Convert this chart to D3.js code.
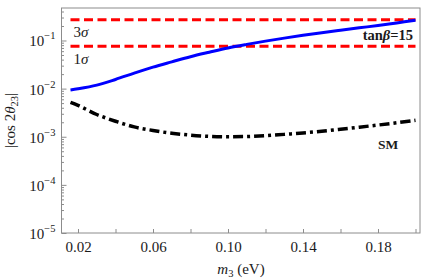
<!DOCTYPE html>
<html>
<head>
<meta charset="utf-8">
<script src="https://cdn.jsdelivr.net/npm/d3@7"></script>
<style>
  body { margin: 0; background: #fff; }
  svg { font-family: "Liberation Serif", "DejaVu Serif", serif; }
</style>
</head>
<body>
<svg id="chart" width="425" height="280"></svg>
<script>
// values
var m3 = [0.016, 0.02, 0.03, 0.04, 0.05, 0.06, 0.07, 0.08, 0.09, 0.10,
          0.11, 0.12, 0.13, 0.14, 0.15, 0.16, 0.17, 0.18, 0.19, 0.20];
var cos_tanb15 = [0.0094, 0.0099, 0.0118, 0.0155, 0.021, 0.028, 0.036, 0.046, 0.057, 0.070,
                  0.083, 0.097, 0.112, 0.128, 0.145, 0.163, 0.183, 0.205, 0.232, 0.262];
var cos_sm = [0.0052, 0.0045, 0.0029, 0.0021, 0.0016, 0.00135, 0.00118, 0.00108, 0.00102, 0.00100,
              0.00101, 0.00105, 0.00112, 0.0012, 0.0013, 0.00143, 0.00158, 0.00175, 0.00195, 0.0022];
var sigma_levels = [0.27, 0.076];
var sigma_labels = ["3", "1"];
var x_ticks = [0.02, 0.06, 0.10, 0.14, 0.18];
var x_minor = [0.04, 0.08, 0.12, 0.16, 0.20];
var y_exps = [-5, -4, -3, -2, -1];

var svg = d3.select("#chart"),
    margin = {top: 8, right: 5, bottom: 47, left: 61.5},
    w = 425, h = 280;

var x = d3.scaleLinear()
    .domain([0.0112, 0.2024])
    .range([margin.left, w - margin.right]);
var y = d3.scaleLog()
    .domain([1e-5, Math.pow(10, -0.325)])
    .range([h - margin.bottom, margin.top]);

// minor y ticks 2..9 in every decade
var y_minor = [];
y_exps.concat([0]).forEach(function(e) {
  for (var k = 2; k <= 9; k++) {
    var v = k * Math.pow(10, e - 1);
    if (v >= y.domain()[0] && v <= y.domain()[1]) y_minor.push(v);
  }
});

var axis_color = "#8c8c8c";
var text_color = "#1a1a1a";

// frame
svg.append("rect")
  .attr("x", margin.left).attr("y", margin.top)
  .attr("width", w - margin.right - margin.left)
  .attr("height", h - margin.bottom - margin.top)
  .attr("fill", "none").attr("stroke", axis_color).attr("stroke-width", 1);

var x_axis = svg.append("g")
  .attr("transform", "translate(0," + (h - margin.bottom) + ")")
  .call(d3.axisBottom(x).tickValues(x_ticks).tickSizeInner(-4).tickSizeOuter(0)
        .tickPadding(8).tickFormat(d3.format(".2f")));
svg.append("g")
  .attr("transform", "translate(0," + (h - margin.bottom) + ")")
  .call(d3.axisBottom(x).tickValues(x_minor).tickSizeInner(-4).tickSizeOuter(0).tickFormat(""));

var y_axis = svg.append("g")
  .attr("transform", "translate(" + margin.left + ",0)")
  .call(d3.axisLeft(y).tickValues(y_exps.map(function(e) { return Math.pow(10, e); }))
        .tickSizeInner(-5).tickSizeOuter(0).tickFormat(""));
svg.append("g")
  .attr("transform", "translate(" + margin.left + ",0)")
  .call(d3.axisLeft(y).tickValues(y_minor).tickSizeInner(-2.5).tickSizeOuter(0).tickFormat(""));

svg.selectAll(".domain").remove();
svg.selectAll(".tick line").attr("stroke", axis_color);
x_axis.selectAll("text").attr("font-size", 15).attr("fill", text_color)
  .attr("font-family", "Liberation Serif");

// y tick labels 10^n
y_exps.forEach(function(e) {
  var t = svg.append("text")
    .attr("x", margin.left - 6)
    .attr("y", y(Math.pow(10, e)) + 6)
    .attr("text-anchor", "end")
    .attr("font-size", 15)
    .attr("fill", text_color);
  t.append("tspan").text("10");
  t.append("tspan").attr("dy", -7).attr("font-size", 10.5).text("\u2212" + (-e));
});

// axis labels
var xl = svg.append("text")
  .attr("x", 241)
  .attr("y", 274)
  .attr("text-anchor", "middle")
  .attr("font-size", 15)
  .attr("fill", text_color);
xl.append("tspan").attr("font-style", "italic").text("m");
xl.append("tspan").attr("dy", 3).attr("font-size", 10.5).text("3");
xl.append("tspan").attr("dy", -3).text(" (eV)");

var yl = svg.append("text")
  .attr("transform", "translate(15," + ((margin.top + h - margin.bottom) / 2) + ") rotate(-90)")
  .attr("text-anchor", "middle")
  .attr("font-size", 15)
  .attr("fill", text_color);
yl.append("tspan").text("|cos 2");
yl.append("tspan").attr("font-style", "italic").text("\u03b8");
yl.append("tspan").attr("dy", 3).attr("font-size", 10.5).text("23");
yl.append("tspan").attr("dy", -3).text("|");

// sigma lines
svg.selectAll(".sigma")
  .data(sigma_levels)
  .enter().append("line")
  .attr("class", "sigma")
  .attr("x1", x(m3[0])).attr("x2", x(m3[m3.length - 1]))
  .attr("y1", function(d) { return y(d); })
  .attr("y2", function(d) { return y(d); })
  .attr("stroke", "#ff0000")
  .attr("stroke-width", 3)
  .attr("stroke-dasharray", "9,4.5");

sigma_levels.forEach(function(d, i) {
  var t = svg.append("text")
    .attr("x", x(0.0176))
    .attr("y", y(d) + 17.5)
    .attr("font-size", 15)
    .attr("fill", text_color);
  t.append("tspan").text(sigma_labels[i]);
  t.append("tspan").attr("font-style", "italic").text("\u03c3");
});

var line = d3.line()
  .x(function(d, i) { return x(m3[i]); })
  .y(function(d) { return y(d); })
  .curve(d3.curveCatmullRom);

svg.append("path")
  .datum(cos_tanb15)
  .attr("d", line)
  .attr("fill", "none")
  .attr("stroke", "#0000ff")
  .attr("stroke-width", 3);

svg.append("path")
  .datum(cos_sm)
  .attr("d", line)
  .attr("fill", "none")
  .attr("stroke", "#000")
  .attr("stroke-width", 3.5)
  .attr("stroke-dasharray", "10,4,3,4");

// curve labels
var tb = svg.append("text")
  .attr("x", 413).attr("y", 40)
  .attr("text-anchor", "end")
  .attr("font-size", 14.5)
  .attr("font-weight", "bold")
  .attr("fill", text_color);
tb.append("tspan").text("tan");
tb.append("tspan").attr("font-style", "italic").text("\u03b2");
tb.append("tspan").text("=15");

svg.append("text")
  .attr("x", 388).attr("y", 149)
  .attr("text-anchor", "middle")
  .attr("font-size", 13.5)
  .attr("font-weight", "bold")
  .attr("fill", text_color)
  .text("SM");
</script>
</body>
</html>
